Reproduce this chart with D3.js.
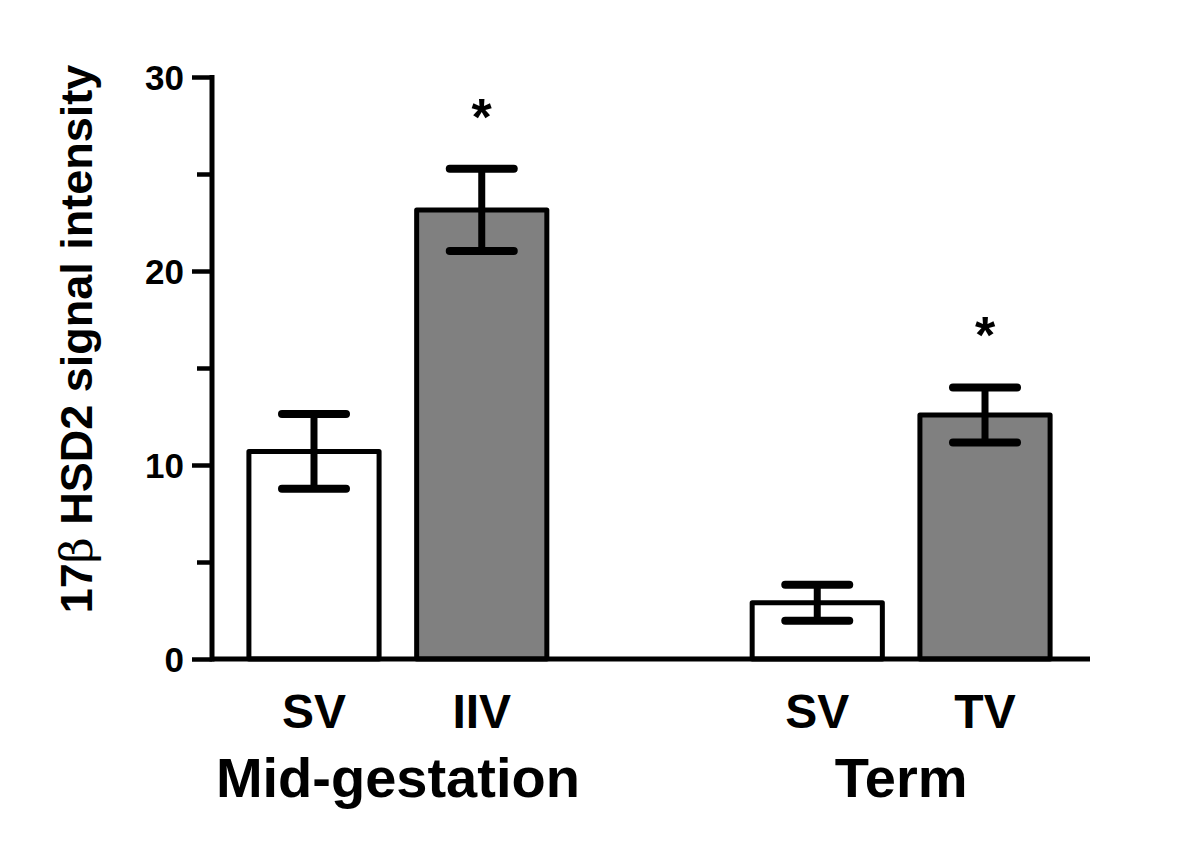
<!DOCTYPE html>
<html>
<head>
<meta charset="utf-8">
<script src="https://cdn.jsdelivr.net/npm/d3@7"></script>
<style>
  html, body { margin: 0; padding: 0; background: #ffffff; }
  svg { display: block; }
  text { font-family: "Liberation Sans", Arial, Helvetica, sans-serif; font-weight: bold; fill: #000; }
</style>
</head>
<body>
<svg id="chart" width="1200" height="850"></svg>
<script>
// ---- data ----
const groups = ["Mid-gestation", "Term"];
const categories = ["SV", "IIV", "SV", "TV"];
const categoryGroup = ["Mid-gestation", "Mid-gestation", "Term", "Term"];
const means = [10.7, 23.15, 2.9, 12.58];
const sems = [1.93, 2.12, 0.93, 1.42];
const significant = [false, true, false, true];
const yTicks = [0, 10, 20, 30];
const yMinorTicks = [5, 15, 25];
const yLabel = "17β HSD2 signal intensity";

// ---- layout ----
const svg = d3.select("#chart");
const mLeft = 212, mRight = 1087, mTop = 77, mBottom = 659;

const keys = categories.map((c, i) => categoryGroup[i] + "|" + c);
const domain = [keys[0], keys[1], "__gap__", keys[2], keys[3]];
const x = d3.scaleBand().domain(domain).range([mLeft, mRight])
  .paddingInner(0.224).paddingOuter(0.22);
const y = d3.scaleLinear().domain([0, 30]).range([mBottom, mTop]);

const data = categories.map((c, i) => ({
  key: keys[i], cat: c, group: categoryGroup[i],
  mean: means[i], sem: sems[i], sig: significant[i],
  fill: i % 2 === 0 ? "#ffffff" : "#808080"
}));

// bars
svg.append("g").selectAll("rect").data(data).join("rect")
  .attr("x", d => x(d.key))
  .attr("y", d => y(d.mean))
  .attr("width", x.bandwidth())
  .attr("height", d => y(0) - y(d.mean))
  .attr("fill", d => d.fill)
  .attr("stroke", "#000")
  .attr("stroke-width", 5)
  .attr("stroke-linejoin", "round");

// error bars
const eb = svg.append("g").selectAll("g").data(data).join("g");
eb.append("line")
  .attr("x1", d => x(d.key) + x.bandwidth() / 2)
  .attr("x2", d => x(d.key) + x.bandwidth() / 2)
  .attr("y1", d => y(d.mean - d.sem))
  .attr("y2", d => y(d.mean + d.sem))
  .attr("stroke", "#000").attr("stroke-width", 7);
[-1, 1].forEach(s => {
  eb.append("line")
    .attr("x1", d => x(d.key) + x.bandwidth() / 2 - 32)
    .attr("x2", d => x(d.key) + x.bandwidth() / 2 + 32)
    .attr("y1", d => y(d.mean + s * d.sem))
    .attr("y2", d => y(d.mean + s * d.sem))
    .attr("stroke", "#000").attr("stroke-width", 8)
    .attr("stroke-linecap", "round");
});

// significance stars
svg.append("g").selectAll("text").data(data.filter(d => d.sig)).join("text")
  .attr("x", d => x(d.key) + x.bandwidth() / 2)
  .attr("y", d => y(d.mean + d.sem) - 34)
  .attr("text-anchor", "middle")
  .attr("font-size", 52)
  .text("*");

// y axis
const yAxis = svg.append("g").attr("transform", `translate(${mLeft},0)`)
  .call(d3.axisLeft(y).tickValues(yTicks).tickSize(20).tickPadding(8).tickFormat(d3.format("d")));
yAxis.select(".domain").remove();
yAxis.selectAll(".tick line").attr("stroke", "#000").attr("stroke-width", 4.5);
yAxis.selectAll(".tick text").attr("font-size", 35).attr("font-family", "Liberation Sans, Arial, sans-serif")
  .attr("font-weight", "bold").attr("dy", "0.36em");
const yMinor = svg.append("g").attr("transform", `translate(${mLeft},0)`)
  .call(d3.axisLeft(y).tickValues(yMinorTicks).tickSize(15).tickFormat(""));
yMinor.select(".domain").remove();
yMinor.selectAll(".tick line").attr("stroke", "#000").attr("stroke-width", 4.5);

// axis lines
svg.append("line").attr("x1", mLeft).attr("x2", mLeft)
  .attr("y1", y(30) - 2).attr("y2", y(0) + 2.5)
  .attr("stroke", "#000").attr("stroke-width", 5);
svg.append("line").attr("x1", mLeft).attr("x2", mRight + 3)
  .attr("y1", y(0)).attr("y2", y(0))
  .attr("stroke", "#000").attr("stroke-width", 5);

// category labels
svg.append("g").selectAll("text").data(data).join("text")
  .attr("x", d => x(d.key) + x.bandwidth() / 2)
  .attr("y", 728)
  .attr("text-anchor", "middle")
  .attr("font-size", 48)
  .text(d => d.cat);

// group labels
svg.append("g").selectAll("text").data(groups).join("text")
  .attr("x", g => {
    const ks = data.filter(d => d.group === g);
    return d3.mean(ks, d => x(d.key) + x.bandwidth() / 2);
  })
  .attr("y", 797)
  .attr("text-anchor", "middle")
  .attr("font-size", 56)
  .text(g => g);

// y label
const yl = svg.append("text")
  .attr("transform", `translate(92, ${(613 + 65) / 2}) rotate(-90)`)
  .attr("text-anchor", "middle")
  .attr("font-size", 45);
yl.append("tspan").text("17");
yl.append("tspan").attr("font-weight", "normal").attr("font-family", "DejaVu Serif, serif").text("β");
yl.append("tspan").text(" HSD2 signal intensity");
</script>
</body>
</html>
